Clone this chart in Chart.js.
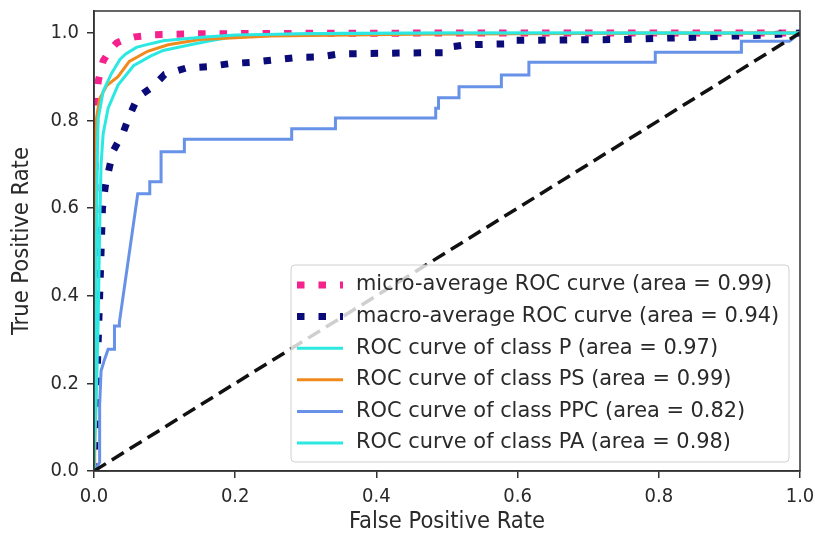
<!DOCTYPE html>
<html>
<head>
<meta charset="utf-8">
<script src="https://cdn.jsdelivr.net/npm/chart.js@4"></script>
<style>
  html, body { margin: 0; padding: 0; background: #fff; }
  #wrap { width: 815px; height: 540px; }
</style>
</head>
<body>
<div id="wrap"><canvas id="roc"></canvas></div>
<script>
// ROC curves, one per class plus micro / macro averages.

const xTicks = [0, 0.2, 0.4, 0.6, 0.8, 1.0];
const yTicks = [0, 0.2, 0.4, 0.6, 0.8, 1.0];

const microFpr = [0, 0.001, 0.002, 0.003, 0.006, 0.013, 0.022, 0.032, 0.045, 0.058, 0.086, 0.15, 0.3, 0.6, 1];
const microTpr = [0, 0.55, 0.78, 0.836, 0.89, 0.936, 0.96, 0.977, 0.986, 0.991, 0.996, 0.998, 0.999, 1, 1];

const macroFpr = [0, 0.004, 0.008, 0.010, 0.012, 0.016, 0.020, 0.027, 0.041, 0.050, 0.062, 0.084, 0.100, 0.131, 0.162, 0.193, 0.225, 0.259, 0.287, 0.318, 0.348, 0.43, 0.495, 0.5, 0.528, 0.585, 0.59, 0.75, 0.85, 0.95, 1];
const macroTpr = [0, 0.2, 0.4, 0.5, 0.6, 0.65, 0.68, 0.73, 0.771, 0.81, 0.853, 0.878, 0.905, 0.92, 0.923, 0.93, 0.933, 0.939, 0.944, 0.945, 0.952, 0.954, 0.955, 0.967, 0.973, 0.975, 0.983, 0.985, 0.99, 0.995, 1];

const pFpr = [0, 0.003, 0.006, 0.008, 0.010, 0.013, 0.020, 0.034, 0.056, 0.080, 0.098, 0.133, 0.161, 0.193, 0.24, 0.35, 1];
const pTpr = [0, 0.15, 0.35, 0.55, 0.70, 0.77, 0.828, 0.881, 0.925, 0.947, 0.96, 0.972, 0.981, 0.99, 0.996, 0.999, 1];

const psFpr = [0, 0.001, 0.0015, 0.003, 0.008, 0.018, 0.034, 0.05, 0.076, 0.105, 0.15, 0.25, 0.45, 0.75, 1];
const psTpr = [0, 0.4, 0.7, 0.8, 0.85, 0.88, 0.90, 0.935, 0.958, 0.973, 0.985, 0.993, 0.997, 0.999, 1];

const ppcFpr = [0, 0.008, 0.008, 0.010, 0.014, 0.020, 0.029, 0.029, 0.036, 0.036, 0.062, 0.079, 0.079, 0.095, 0.095, 0.128, 0.128, 0.28, 0.28, 0.342, 0.342, 0.484, 0.484, 0.488, 0.488, 0.517, 0.517, 0.577, 0.577, 0.616, 0.616, 0.795, 0.795, 0.917, 0.917, 0.985, 1.0];
const ppcTpr = [0, 0.02, 0.15, 0.228, 0.25, 0.278, 0.278, 0.331, 0.331, 0.34, 0.633, 0.633, 0.66, 0.66, 0.729, 0.729, 0.757, 0.757, 0.781, 0.781, 0.806, 0.806, 0.828, 0.828, 0.852, 0.852, 0.877, 0.877, 0.904, 0.904, 0.933, 0.933, 0.956, 0.956, 0.981, 0.981, 1.0];

const paFpr = [0, 0.002, 0.004, 0.005, 0.006, 0.013, 0.025, 0.037, 0.045, 0.060, 0.072, 0.098, 0.152, 0.2, 0.3, 0.5, 1];
const paTpr = [0, 0.3, 0.6, 0.75, 0.805, 0.867, 0.908, 0.94, 0.952, 0.967, 0.972, 0.982, 0.99, 0.995, 0.998, 1, 1];

const chanceFpr = [0, 1];
const chanceTpr = [0, 1];

const seriesLabels = [
  "micro-average ROC curve (area = 0.99)",
  "macro-average ROC curve (area = 0.94)",
  "ROC curve of class P (area = 0.97)",
  "ROC curve of class PS (area = 0.99)",
  "ROC curve of class PPC (area = 0.82)",
  "ROC curve of class PA (area = 0.98)",
];

const pts = (xs, ys) => xs.map((x, i) => ({ x, y: ys[i] }));

const CYAN = "#2ce8e2";
const DOT = [7.5, 14];

// matplotlib draws later lines on top; chart.js puts lower `order` on top
const datasets = [
  { label: seriesLabels[0], data: pts(microFpr, microTpr), borderColor: "#f5218c", borderWidth: 7, borderDash: DOT, order: 7 },
  { label: seriesLabels[1], data: pts(macroFpr, macroTpr), borderColor: "#0a0a78", borderWidth: 7, borderDash: DOT, order: 6 },
  { label: seriesLabels[2], data: pts(pFpr, pTpr), borderColor: CYAN, borderWidth: 3, order: 5 },
  { label: seriesLabels[3], data: pts(psFpr, psTpr), borderColor: "#f08a1c", borderWidth: 3, order: 4 },
  { label: seriesLabels[4], data: pts(ppcFpr, ppcTpr), borderColor: "#6792e8", borderWidth: 3, order: 3 },
  { label: seriesLabels[5], data: pts(paFpr, paTpr), borderColor: CYAN, borderWidth: 3, order: 2 },
  { label: "", data: pts(chanceFpr, chanceTpr), borderColor: "#111", borderWidth: 3.5, borderDash: [14, 7], order: 1 },
].map((d) => ({ ...d, showLine: true, pointRadius: 0, fill: false, tension: 0, borderCapStyle: "butt" }));

const TEXT = "#2a2a2a";
const tickFont = { family: "'DejaVu Sans Condensed', 'DejaVu Sans'", size: 20 };
const titleFont = { family: "'DejaVu Sans Condensed', 'DejaVu Sans'", size: 23.5 };

// frame on all four sides, like matplotlib spines
const framePlugin = {
  id: "frame",
  afterDatasetsDraw(chart) {
    const { ctx, chartArea: a } = chart;
    ctx.save();
    ctx.strokeStyle = "#333";
    ctx.lineWidth = 1.5;
    ctx.strokeRect(a.left, a.top, a.right - a.left, a.bottom - a.top);
    ctx.restore();
  },
};

// legend box in the lower right of the axes
const legendPlugin = {
  id: "innerLegend",
  afterDraw(chart) {
    const { ctx, chartArea: a } = chart;
    const w = 498, h = 197;
    const x0 = a.right - 11 - w, y0 = a.bottom - 9 - h;
    ctx.save();
    ctx.beginPath();
    ctx.roundRect(x0, y0, w, h, 4);
    ctx.fillStyle = "rgba(255,255,255,0.8)";
    ctx.fill();
    ctx.strokeStyle = "#d0d0d0";
    ctx.lineWidth = 1;
    ctx.stroke();
    ctx.font = "20.9px 'DejaVu Sans'";
    ctx.textBaseline = "middle";
    seriesLabels.forEach((label, i) => {
      const ds = chart.data.datasets[i];
      const y = y0 + 20 + i * 31.6;
      ctx.beginPath();
      ctx.strokeStyle = ds.borderColor;
      ctx.lineWidth = ds.borderWidth;
      ctx.setLineDash(ds.borderDash || []);
      ctx.lineCap = "butt";
      ctx.moveTo(x0 + 6, y);
      ctx.lineTo(x0 + 52, y);
      ctx.stroke();
      ctx.setLineDash([]);
      ctx.fillStyle = TEXT;
      ctx.fillText(label, x0 + 65, y);
    });
    ctx.restore();
  },
};

const axisCommon = {
  type: "linear",
  grid: { display: true, drawOnChartArea: false, drawTicks: true, tickLength: 7, color: "#333", lineWidth: 1.5 },
  border: { display: true, color: "#333", width: 1.5 },
};

const noPad = (s) => { s.paddingTop = 0; s.paddingBottom = 0; s.paddingLeft = 0; s.paddingRight = 0; };

new Chart(document.getElementById("roc"), {
  type: "scatter",
  data: { datasets },
  plugins: [framePlugin, legendPlugin],
  options: {
    responsive: true,
    maintainAspectRatio: false,
    animation: false,
    layout: { padding: { top: 11, right: 15, left: 0, bottom: 0 } },
    plugins: { legend: { display: false }, tooltip: { enabled: false } },
    scales: {
      x: {
        ...axisCommon,
        min: 0,
        max: 1,
        afterBuildTicks: (s) => { s.ticks = xTicks.map((v) => ({ value: v })); },
        afterFit: (s) => { s.height = 69; noPad(s); },
        ticks: { font: tickFont, color: TEXT, padding: 7, maxRotation: 0, callback: (v) => v.toFixed(1) },
        title: { display: true, text: "False Positive Rate", font: titleFont, color: TEXT, padding: { top: 0, bottom: 4 } },
      },
      y: {
        ...axisCommon,
        min: 0,
        max: 1.05,
        afterBuildTicks: (s) => { s.ticks = yTicks.map((v) => ({ value: v })); },
        afterFit: (s) => { s.width = 94; noPad(s); },
        ticks: { font: tickFont, color: TEXT, padding: 8, callback: (v) => v.toFixed(1) },
        title: { display: true, text: "True Positive Rate", font: titleFont, color: TEXT, padding: { top: 8, bottom: 0 } },
      },
    },
  },
});
</script>
</body>
</html>
